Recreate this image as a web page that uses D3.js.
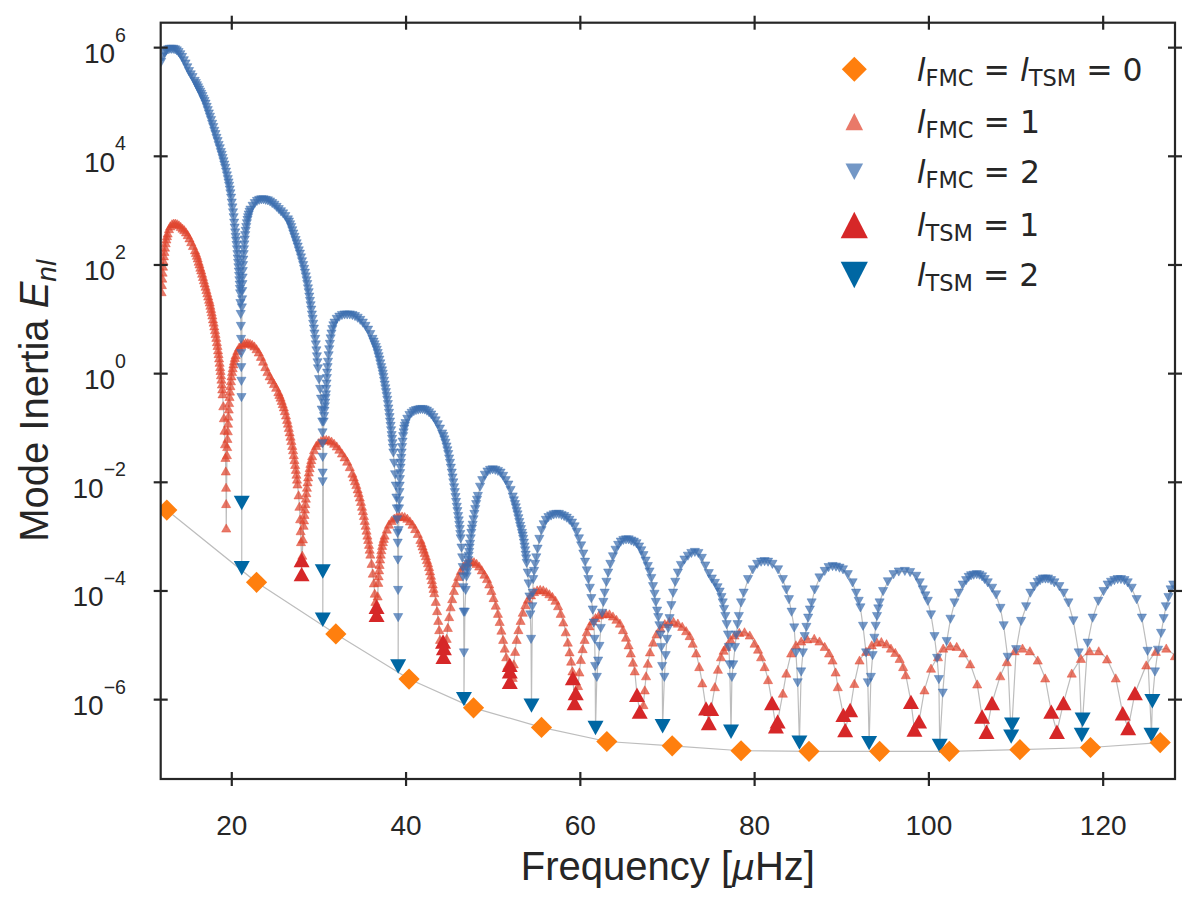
<!DOCTYPE html>
<html>
<head>
<meta charset="utf-8">
<script src="https://cdn.jsdelivr.net/npm/d3@7/dist/d3.min.js"></script>
<style>
  body { margin: 0; background: #fff; }
  svg { display: block; }
</style>
</head>
<body>
<div id="chart"></div>
<script>
// values; inertia kept as log10(E_nl)

// radial modes (l = 0, FMC and TSM coincide)
const l0Freq = [12.6, 22.9, 32.0, 40.4, 47.8, 55.6, 63.1, 70.6, 78.5, 86.3, 94.4, 102.4, 110.5, 118.6, 126.6];
const l0LogE = [-2.52, -3.85, -4.80, -5.63, -6.16, -6.52, -6.78, -6.86, -6.95, -6.96, -6.96, -6.96, -6.93, -6.89, -6.80];

// TSM modes [freq, log10 E]
const tsm1 = [[28.07,-3.44],[28.07,-3.70],[36.67,-4.30],[36.67,-4.45],[44.3,-4.94],[44.4,-5.06],[44.35,-5.22],
  [51.96,-5.37],[51.96,-5.49],[51.96,-5.68],[59.2,-5.61],[59.4,-6.07],[59.53,-5.89],[66.56,-5.92],[66.87,-6.23],
  [74.48,-6.17],[74.8,-6.44],[75.07,-6.18],[82.06,-6.07],[82.5,-6.50],[82.7,-6.41],[90.24,-6.29],[90.45,-6.57],
  [91.02,-6.20],[98.0,-6.05],[98.4,-6.56],[98.93,-6.41],[106.16,-6.32],[106.67,-6.60],[107.3,-6.07],
  [114.1,-6.23],[114.75,-6.60],[115.5,-6.07],[122.3,-6.26],[122.93,-6.53],[123.7,-5.89]];

const tsm2 = [[21.2,-2.39],[21.2,-3.59],[30.5,-3.65],[30.5,-4.54],[39.15,-5.40],[46.7,-6.0],[54.45,-6.12],
  [61.8,-6.53],[69.5,-6.50],[77.35,-6.60],[85.2,-6.80],[93.2,-6.81],[101.3,-6.86],[109.5,-6.69],[109.6,-6.47],
  [117.6,-6.66],[117.7,-6.38],[125.6,-6.66],[125.7,-6.04]];

// FMC l = 1, one array per arch between the dipole p modes
const fmc1Arches = [
  [[12.0,1.5],[12.04,1.63],[12.08,1.75],[12.12,1.86],[12.17,1.97],[12.22,2.07],[12.27,2.16],[12.33,2.24],[12.4,2.32],
   [12.47,2.4],[12.55,2.47],[12.62,2.53],[12.7,2.58],[12.85,2.66],[13.0,2.71],[13.2,2.75],[13.4,2.76],[13.6,2.76],
   [13.8,2.75],[14.0,2.73],[14.2,2.7],[14.4,2.67],[14.6,2.64],[14.8,2.6],[15.0,2.55],[15.2,2.49],[15.4,2.42],
   [15.6,2.35],[15.83,2.27],[15.94,2.22],[16.05,2.17],[16.15,2.12],[16.25,2.06],[16.35,2.01],[16.45,1.95],
   [16.55,1.9],[16.65,1.84],[16.75,1.78],[16.85,1.72],[16.95,1.66],[17.05,1.6],[17.15,1.54],[17.25,1.48],
   [17.35,1.42],[17.45,1.36],[17.53,1.31],[17.6,1.25],[17.68,1.19],[17.75,1.13],[17.83,1.07],[17.9,1.0],
   [17.98,0.94],[18.05,0.87],[18.13,0.8],[18.2,0.73],[18.28,0.66],[18.35,0.58],[18.42,0.51],[18.48,0.43],
   [18.54,0.36],[18.6,0.28],[18.66,0.2],[18.72,0.12],[18.77,0.05],[18.82,-0.03],[18.87,-0.11],[18.92,-0.2],
   [18.96,-0.29],[19.0,-0.38],[19.08,-0.6],[19.15,-0.82],[19.22,-1.05],[19.28,-1.3],[19.33,-1.55],[19.37,-1.8],
   [19.4,-2.1],[19.41,-2.4],[19.42,-2.85]],
  [[19.5,-1.5],[19.53,-1.35],[19.56,-1.2],[19.6,-1.06],[19.63,-0.92],[19.67,-0.79],[19.71,-0.66],[19.75,-0.54],
   [19.8,-0.43],[19.85,-0.33],[19.9,-0.23],[19.96,-0.14],[20.02,-0.05],[20.09,0.03],[20.16,0.1],[20.24,0.17],
   [20.32,0.23],[20.41,0.29],[20.5,0.34],[20.7,0.42],[20.9,0.48],[21.15,0.52],[21.4,0.55],[21.65,0.56],[21.9,0.56],
   [22.15,0.55],[22.4,0.53],[22.65,0.5],[22.9,0.45],[23.15,0.39],[23.4,0.31],[23.65,0.22],[23.9,0.12],[24.15,0.03],
   [24.4,-0.05],[24.65,-0.12],[24.9,-0.19],[25.15,-0.26],[25.4,-0.34],[25.52,-0.39],[25.65,-0.44],[25.78,-0.5],
   [25.9,-0.56],[26.03,-0.62],[26.15,-0.69],[26.28,-0.77],[26.4,-0.85],[26.5,-0.92],[26.6,-1.0],[26.7,-1.08],
   [26.8,-1.16],[26.9,-1.24],[27.0,-1.33],[27.09,-1.41],[27.17,-1.5],[27.25,-1.59],[27.33,-1.68],[27.41,-1.77],
   [27.48,-1.86],[27.54,-1.95],[27.6,-2.04],[27.72,-2.24],[27.82,-2.45],[27.9,-2.68],[27.96,-2.9],[28.0,-3.1]],
  [[28.15,-3.35],[28.22,-3.05],[28.3,-2.8],[28.35,-2.7],[28.4,-2.6],[28.45,-2.5],[28.5,-2.4],[28.56,-2.3],
   [28.62,-2.2],[28.68,-2.1],[28.75,-2.0],[28.82,-1.91],[28.9,-1.82],[28.99,-1.74],[29.08,-1.66],[29.18,-1.59],
   [29.28,-1.52],[29.5,-1.41],[29.75,-1.33],[30.0,-1.28],[30.3,-1.24],[30.6,-1.22],[30.9,-1.22],[31.2,-1.23],
   [31.5,-1.25],[31.8,-1.29],[32.1,-1.34],[32.4,-1.4],[32.7,-1.47],[33.0,-1.54],[33.3,-1.62],[33.6,-1.72],
   [33.9,-1.84],[34.05,-1.91],[34.2,-1.98],[34.35,-2.05],[34.5,-2.13],[34.62,-2.2],[34.75,-2.28],[34.88,-2.36],
   [35.0,-2.45],[35.11,-2.53],[35.22,-2.62],[35.32,-2.71],[35.42,-2.8],[35.52,-2.89],[35.62,-2.98],[35.71,-3.06],
   [35.8,-3.15],[35.88,-3.24],[35.96,-3.33],[36.1,-3.5],[36.24,-3.68],[36.36,-3.86],[36.46,-4.05],[36.54,-4.2]],
  [[36.8,-4.1],[36.87,-3.85],[36.91,-3.73],[36.96,-3.62],[37.02,-3.52],[37.08,-3.42],[37.15,-3.33],[37.22,-3.25],
   [37.31,-3.17],[37.4,-3.1],[37.5,-3.04],[37.6,-2.98],[37.85,-2.87],[38.1,-2.78],[38.4,-2.71],[38.7,-2.67],
   [39.0,-2.64],[39.3,-2.63],[39.6,-2.63],[39.9,-2.64],[40.2,-2.67],[40.5,-2.72],[40.8,-2.78],[41.1,-2.86],
   [41.4,-2.95],[41.7,-3.06],[41.83,-3.12],[41.95,-3.18],[42.08,-3.24],[42.2,-3.3],[42.33,-3.36],[42.45,-3.43],
   [42.58,-3.49],[42.7,-3.56],[42.81,-3.64],[42.92,-3.72],[43.02,-3.8],[43.12,-3.88],[43.21,-3.96],[43.3,-4.04],
   [43.47,-4.2],[43.62,-4.37],[43.75,-4.55],[43.86,-4.72],[43.95,-4.9]],
  [[44.6,-5.1],[44.72,-4.88],[44.85,-4.68],[45.0,-4.48],[45.17,-4.3],[45.35,-4.15],[45.55,-4.0],[45.8,-3.86],
   [46.05,-3.74],[46.35,-3.63],[46.65,-3.55],[46.95,-3.5],[47.25,-3.47],[47.55,-3.46],[47.85,-3.47],[48.15,-3.5],
   [48.45,-3.55],[48.75,-3.62],[49.05,-3.7],[49.35,-3.78],[49.6,-3.88],[49.85,-4.0],[50.1,-4.13],[50.35,-4.27],
   [50.6,-4.42],[50.8,-4.57],[51.0,-4.73],[51.2,-4.9],[51.38,-5.06],[51.55,-5.22],[51.7,-5.38]],
  [[52.3,-5.6],[52.42,-5.35],[52.57,-5.12],[52.75,-4.9],[52.95,-4.72],[53.2,-4.55],[53.45,-4.4],[53.75,-4.26],
   [54.05,-4.16],[54.4,-4.08],[54.75,-4.02],[55.1,-3.99],[55.45,-3.98],[55.8,-3.99],[56.15,-4.02],[56.5,-4.06],
   [56.85,-4.11],[57.2,-4.18],[57.5,-4.28],[57.8,-4.42],[58.1,-4.58],[58.38,-4.76],[58.62,-4.95],[58.82,-5.13],
   [59.0,-5.3],[59.15,-5.48]],
  [[59.8,-5.75],[59.95,-5.5],[60.12,-5.27],[60.32,-5.07],[60.55,-4.9],[60.8,-4.76],[61.1,-4.65],[61.45,-4.56],
   [61.8,-4.5],[62.2,-4.45],[62.6,-4.43],[63.0,-4.42],[63.4,-4.43],[63.8,-4.47],[64.2,-4.53],[64.6,-4.6],
   [64.95,-4.72],[65.3,-4.86],[65.6,-5.0],[65.85,-5.15],[66.1,-5.32],[66.3,-5.48]],
  [[67.3,-6.1],[67.45,-5.83],[67.6,-5.57],[67.8,-5.34],[68.05,-5.13],[68.4,-4.95],[68.8,-4.8],[69.25,-4.69],
   [69.75,-4.61],[70.25,-4.57],[70.75,-4.57],[71.25,-4.6],[71.75,-4.66],[72.2,-4.74],[72.6,-4.83],[72.95,-4.97],
   [73.35,-5.15],[73.7,-5.4],[74.05,-5.7]],
  [[75.5,-5.77],[75.85,-5.45],[76.2,-5.22],[76.5,-5.1],[76.8,-5.03],[77.3,-4.9],[77.75,-4.82],[78.3,-4.77],
   [78.9,-4.76],[79.5,-4.82],[80.05,-4.97],[80.45,-5.08],[80.8,-5.22],[81.2,-5.4],[81.6,-5.64]],
  [[83.3,-5.89],[83.7,-5.52],[84.25,-5.15],[84.8,-5.0],[85.4,-4.93],[86.1,-4.89],[86.9,-4.88],[87.5,-4.93],
   [88.1,-5.03],[88.6,-5.15],[89.0,-5.28],[89.35,-5.5],[89.6,-5.77]],
  [[91.5,-5.71],[92.1,-5.28],[92.85,-5.12],[93.5,-5.0],[94.1,-4.95],[94.6,-4.94],[95.2,-4.98],[95.7,-5.06],
   [96.2,-5.14],[96.7,-5.25],[97.1,-5.4],[97.4,-5.55]],
  [[99.55,-5.83],[100.3,-5.43],[101.1,-5.22],[101.7,-5.06],[102.5,-5.02],[103.25,-5.03],[104.0,-5.15],[104.8,-5.35],[105.6,-5.72]],
  [[108.25,-5.57],[109.0,-5.31],[109.9,-5.11],[110.8,-5.06],[111.65,-5.11],[112.55,-5.28],[113.4,-5.61]],
  [[116.45,-5.52],[117.5,-5.25],[118.5,-5.11],[119.55,-5.11],[120.5,-5.26],[121.5,-5.61]],
  [[125.0,-5.37],[126.1,-5.12],[127.3,-5.06],[128.3,-5.2]]
];

// FMC l = 2, one array per arch between the quadrupole p modes
const fmc2Arches = [
  [[11.95,5.72],[12.15,5.82],[12.35,5.89],[12.55,5.93],[12.75,5.95],[12.95,5.96],[13.15,5.96],[13.35,5.96],
   [13.55,5.95],[13.75,5.93],[13.95,5.9],[14.15,5.86],[14.35,5.81],[14.55,5.75],[14.75,5.69],[14.95,5.62],
   [15.15,5.55],[15.35,5.49],[15.55,5.44],[15.8,5.37],[15.93,5.33],[16.05,5.29],[16.18,5.25],[16.3,5.21],
   [16.43,5.17],[16.55,5.13],[16.68,5.09],[16.8,5.04],[16.93,5.0],[17.05,4.95],[17.18,4.89],[17.3,4.83],
   [17.43,4.77],[17.55,4.71],[17.68,4.65],[17.8,4.58],[17.93,4.52],[18.05,4.45],[18.18,4.39],[18.3,4.32],
   [18.43,4.26],[18.55,4.19],[18.68,4.13],[18.8,4.06],[18.9,4.01],[19.0,3.95],[19.1,3.89],[19.2,3.83],[19.3,3.77],
   [19.4,3.7],[19.5,3.63],[19.6,3.56],[19.68,3.5],[19.75,3.44],[19.83,3.37],[19.9,3.3],[19.98,3.22],[20.05,3.13],
   [20.13,3.04],[20.2,2.95],[20.27,2.86],[20.33,2.76],[20.39,2.67],[20.45,2.58],[20.5,2.5],[20.55,2.43],[20.6,2.35],
   [20.65,2.27],[20.7,2.18],[20.74,2.1],[20.78,2.02],[20.82,1.94],[20.86,1.86],[20.9,1.78],[20.93,1.7],[20.96,1.62],
   [20.99,1.54],[21.01,1.46],[21.05,1.28],[21.08,1.08],[21.1,0.86],[21.12,0.62],[21.14,0.36],[21.15,0.1],
   [21.16,-0.15],[21.17,-0.45]],
  [[21.22,1.2],[21.24,1.35],[21.26,1.5],[21.28,1.63],[21.3,1.75],[21.32,1.87],[21.35,1.98],[21.38,2.08],[21.42,2.18],
   [21.46,2.27],[21.5,2.36],[21.55,2.45],[21.6,2.53],[21.66,2.61],[21.72,2.68],[21.79,2.75],[21.86,2.81],[21.93,2.86],
   [22.0,2.91],[22.1,2.96],[22.2,3.0],[22.45,3.07],[22.7,3.12],[22.95,3.16],[23.2,3.18],[23.45,3.19],[23.7,3.19],
   [23.95,3.18],[24.2,3.17],[24.45,3.15],[24.7,3.12],[24.95,3.09],[25.2,3.05],[25.45,3.01],[25.7,2.97],[25.95,2.93],
   [26.2,2.88],[26.5,2.82],[26.62,2.78],[26.75,2.73],[26.88,2.68],[27.0,2.62],[27.12,2.56],[27.25,2.5],[27.38,2.44],
   [27.5,2.38],[27.62,2.32],[27.75,2.25],[27.88,2.19],[28.0,2.12],[28.12,2.05],[28.25,1.98],[28.35,1.91],
   [28.45,1.84],[28.55,1.77],[28.64,1.7],[28.72,1.63],[28.8,1.55],[28.88,1.48],[28.95,1.4],[29.03,1.32],[29.1,1.24],
   [29.18,1.16],[29.25,1.07],[29.33,0.99],[29.4,0.9],[29.48,0.81],[29.55,0.72],[29.63,0.62],[29.7,0.52],
   [29.77,0.41],[29.83,0.3],[29.89,0.19],[29.95,0.08],[30.07,-0.12],[30.2,-0.3],[30.3,-0.48],[30.38,-0.68],
   [30.44,-0.9],[30.47,-1.1],[30.48,-1.3],[30.49,-1.55],[30.49,-1.84],[30.49,-2.0]],
  [[30.6,-0.9],[30.65,-0.8],[30.7,-0.7],[30.74,-0.62],[30.78,-0.55],[30.82,-0.47],[30.86,-0.4],[30.9,-0.3],
   [30.93,-0.2],[30.97,-0.1],[31.0,0.0],[31.05,0.1],[31.1,0.2],[31.17,0.32],[31.24,0.43],[31.32,0.53],[31.4,0.63],
   [31.5,0.72],[31.6,0.8],[31.72,0.87],[31.85,0.92],[32.1,0.99],[32.4,1.03],[32.7,1.06],[33.0,1.07],[33.3,1.07],
   [33.6,1.07],[33.9,1.06],[34.2,1.04],[34.5,1.01],[34.8,0.97],[35.1,0.92],[35.4,0.86],[35.7,0.79],[35.95,0.71],
   [36.2,0.62],[36.33,0.57],[36.45,0.52],[36.58,0.47],[36.7,0.42],[36.8,0.36],[36.9,0.3],[37.0,0.24],[37.1,0.17],
   [37.2,0.1],[37.3,0.04],[37.38,-0.02],[37.45,-0.08],[37.53,-0.15],[37.6,-0.22],[37.68,-0.29],[37.75,-0.36],
   [37.83,-0.43],[37.9,-0.5],[37.97,-0.58],[38.03,-0.66],[38.1,-0.74],[38.16,-0.82],[38.22,-0.9],[38.28,-0.98],
   [38.34,-1.06],[38.4,-1.15],[38.45,-1.22],[38.5,-1.3],[38.55,-1.38],[38.6,-1.47],[38.7,-1.66],[38.8,-1.87],
   [38.88,-2.08],[38.95,-2.3],[39.0,-2.5],[39.04,-2.7],[39.08,-2.95],[39.1,-3.13],[39.12,-3.44],[39.14,-4.0],[39.15,-4.5]],
  [[39.2,-2.9],[39.25,-2.5],[39.28,-2.35],[39.3,-2.2],[39.33,-2.08],[39.35,-1.96],[39.38,-1.85],[39.42,-1.75],
   [39.46,-1.66],[39.5,-1.57],[39.55,-1.47],[39.6,-1.37],[39.66,-1.27],[39.72,-1.17],[39.78,-1.1],[39.85,-1.03],
   [39.92,-0.98],[40.0,-0.93],[40.2,-0.85],[40.45,-0.78],[40.7,-0.74],[40.95,-0.71],[41.2,-0.69],[41.45,-0.68],
   [41.7,-0.67],[41.95,-0.67],[42.2,-0.68],[42.45,-0.7],[42.7,-0.73],[42.95,-0.77],[43.2,-0.82],[43.45,-0.88],
   [43.7,-0.95],[43.95,-1.03],[44.2,-1.12],[44.33,-1.17],[44.45,-1.23],[44.58,-1.29],[44.7,-1.36],[44.8,-1.43],
   [44.9,-1.5],[45.0,-1.58],[45.1,-1.66],[45.2,-1.75],[45.3,-1.84],[45.39,-1.93],[45.48,-2.02],[45.57,-2.11],
   [45.65,-2.2],[45.73,-2.29],[45.8,-2.38],[45.88,-2.47],[45.95,-2.55],[46.03,-2.64],[46.1,-2.72],[46.16,-2.8],
   [46.22,-2.88],[46.28,-2.97],[46.33,-3.05],[46.42,-3.22],[46.5,-3.4],[46.56,-3.58],[46.6,-3.75],[46.64,-3.95],
   [46.67,-4.4],[46.7,-5.15]],
  [[46.8,-4.4],[46.9,-4.0],[47.0,-3.75],[47.05,-3.67],[47.1,-3.6],[47.15,-3.52],[47.2,-3.45],[47.25,-3.37],
   [47.3,-3.3],[47.35,-3.22],[47.4,-3.15],[47.48,-3.05],[47.55,-2.95],[47.62,-2.87],[47.7,-2.8],[47.8,-2.7],
   [47.9,-2.6],[48.0,-2.51],[48.1,-2.42],[48.2,-2.34],[48.3,-2.27],[48.55,-2.1],[48.8,-1.98],[49.1,-1.88],
   [49.4,-1.82],[49.7,-1.79],[50.0,-1.78],[50.3,-1.79],[50.6,-1.81],[50.9,-1.84],[51.2,-1.9],[51.5,-1.98],
   [51.8,-2.06],[52.05,-2.16],[52.3,-2.28],[52.43,-2.35],[52.55,-2.42],[52.65,-2.48],[52.75,-2.55],[52.85,-2.61],
   [52.95,-2.68],[53.05,-2.75],[53.15,-2.82],[53.25,-2.88],[53.35,-2.95],[53.43,-3.0],[53.5,-3.06],[53.58,-3.13],
   [53.65,-3.2],[53.72,-3.27],[53.78,-3.35],[53.84,-3.42],[53.9,-3.5],[54.02,-3.68],[54.12,-3.88],[54.22,-4.12],
   [54.32,-4.45],[54.4,-4.9]],
  [[54.55,-4.3],[54.6,-4.05],[54.65,-3.8],[54.75,-3.65],[54.87,-3.52],[55.0,-3.4],[55.15,-3.24],[55.35,-3.06],
   [55.6,-2.9],[55.85,-2.79],[56.1,-2.71],[56.4,-2.66],[56.7,-2.63],[57.0,-2.61],[57.3,-2.6],[57.6,-2.6],[57.9,-2.62],
   [58.2,-2.64],[58.5,-2.67],[58.8,-2.71],[59.1,-2.76],[59.4,-2.83],[59.65,-2.93],[59.9,-3.05],[60.15,-3.18],
   [60.4,-3.33],[60.6,-3.48],[60.8,-3.64],[60.98,-3.8],[61.15,-3.96],[61.32,-4.15],[61.48,-4.36],[61.6,-4.6],
   [61.7,-4.9],[61.76,-5.4]],
  [[61.95,-5.6],[62.1,-5.3],[62.25,-5.03],[62.4,-4.7],[62.55,-4.42],[62.7,-4.22],[62.85,-4.05],[63.05,-3.85],
   [63.25,-3.68],[63.5,-3.52],[63.8,-3.38],[64.1,-3.26],[64.4,-3.17],[64.7,-3.11],[65.0,-3.08],[65.3,-3.07],
   [65.6,-3.07],[65.9,-3.09],[66.2,-3.11],[66.5,-3.14],[66.8,-3.2],[67.05,-3.27],[67.3,-3.36],[67.55,-3.46],
   [67.8,-3.56],[68.0,-3.66],[68.2,-3.78],[68.4,-3.93],[68.57,-4.07],[68.72,-4.22],[68.87,-4.38],[69.0,-4.5],
   [69.13,-4.65],[69.25,-4.82],[69.35,-5.05],[69.45,-5.4]],
  [[69.7,-5.6],[69.85,-5.2],[70.0,-4.9],[70.15,-4.7],[70.3,-4.52],[70.5,-4.28],[70.7,-4.05],[70.95,-3.85],
   [71.25,-3.68],[71.6,-3.54],[72.0,-3.44],[72.4,-3.37],[72.8,-3.32],[73.2,-3.3],[73.6,-3.32],[74.0,-3.41],
   [74.4,-3.55],[74.8,-3.69],[75.15,-3.79],[75.5,-3.87],[75.8,-3.95],[76.05,-4.03],[76.25,-4.13],[76.4,-4.23],
   [76.55,-4.35],[76.7,-4.48],[76.85,-4.63],[77.0,-4.82],[77.1,-5.05],[77.2,-5.37]],
  [[77.45,-5.6],[77.6,-5.37],[77.8,-5.05],[77.95,-4.82],[78.1,-4.63],[78.25,-4.48],[78.5,-4.23],[78.8,-4.05],
   [79.3,-3.8],[79.85,-3.62],[80.35,-3.52],[80.8,-3.48],[81.2,-3.47],[81.6,-3.48],[82.1,-3.52],[82.75,-3.62],
   [83.3,-3.8],[83.7,-3.99],[84.0,-4.17],[84.3,-4.4],[84.6,-4.69],[84.8,-5.15],[85.0,-5.7]],
  [[85.4,-5.5],[85.6,-5.15],[85.8,-4.85],[86.0,-4.68],[86.2,-4.51],[86.4,-4.36],[86.6,-4.23],[86.95,-3.99],
   [87.5,-3.77],[88.1,-3.65],[88.55,-3.58],[89.0,-3.56],[89.4,-3.57],[89.8,-3.59],[90.2,-3.62],[90.75,-3.71],
   [91.3,-3.86],[91.7,-4.05],[92.0,-4.2],[92.2,-4.32],[92.5,-4.66],[92.85,-5.15],[93.05,-5.7]],
  [[93.4,-5.6],[93.6,-5.2],[93.8,-4.88],[93.95,-4.66],[94.1,-4.48],[94.25,-4.34],[94.4,-4.23],[94.8,-4.02],
   [95.35,-3.84],[96.0,-3.71],[96.6,-3.66],[97.3,-3.65],[97.9,-3.67],[98.6,-3.74],[99.0,-3.86],[99.35,-3.99],
   [99.65,-4.1],[99.93,-4.2],[100.3,-4.45],[100.7,-4.85],[101.0,-5.25],[101.2,-5.64]],
  [[101.65,-5.89],[102.1,-4.94],[102.53,-4.53],[102.99,-4.23],[103.48,-4.05],[103.94,-3.9],[104.33,-3.82],
   [104.63,-3.76],[104.9,-3.73],[105.2,-3.72],[105.55,-3.71],[105.86,-3.72],[106.16,-3.75],[106.46,-3.8],
   [106.81,-3.86],[107.31,-3.96],[107.77,-4.08],[108.27,-4.33],[108.64,-4.65],[109.1,-5.23]],
  [[110.07,-5.09],[110.64,-4.57],[111.21,-4.3],[111.7,-4.05],[112.16,-3.93],[112.54,-3.85],[112.82,-3.82],
   [113.12,-3.79],[113.43,-3.79],[113.73,-3.79],[114.08,-3.82],[114.46,-3.86],[115.03,-3.93],[115.53,-4.05],
   [116.07,-4.23],[116.64,-4.56],[117.25,-5.15]],
  [[118.28,-4.97],[118.85,-4.51],[119.5,-4.2],[120.1,-4.02],[120.57,-3.9],[120.96,-3.85],[121.34,-3.82],
   [121.72,-3.8],[122.1,-3.8],[122.5,-3.82],[122.87,-3.86],[123.33,-3.96],[123.9,-4.17],[124.5,-4.51],[125.15,-5.12]],
  [[126.0,-5.5],[126.35,-5.1],[126.7,-4.79],[127.0,-4.52],[127.25,-4.3],[127.55,-4.13],[127.8,-3.99],[128.1,-3.9]]
];

const xTicks = [20, 40, 60, 80, 100, 120];
const yTickExp = [-6, -4, -2, 0, 2, 4, 6];
const xLimits = [11.9, 128.3];
const yLimitExp = [-7.47, 6.45];

const legendRows = [
  {key: "l0",   parts: [["FMC", "0"], ["TSM", "0"]]},
  {key: "fmc1", parts: [["FMC", "1"]]},
  {key: "fmc2", parts: [["FMC", "2"]]},
  {key: "tsm1", parts: [["TSM", "1"]]},
  {key: "tsm2", parts: [["TSM", "2"]]}
];

// ---------------------------------------------------------------
const W = 1200, H = 906;
const box = {left: 160.7, right: 1175, top: 22.7, bottom: 779};
const ink = "#262626";

const x = d3.scaleLinear().domain(xLimits).range([box.left, box.right]);
const y = d3.scaleLog()
  .domain(yLimitExp.map(e => Math.pow(10, e)))
  .range([box.bottom, box.top]);

const toPts = arr => arr.map(d => ({f: d[0], e: Math.pow(10, d[1])}));

const fmc1 = toPts(fmc1Arches.flat());
const fmc2 = toPts(fmc2Arches.flat());
const t1 = toPts(tsm1);
const t2 = toPts(tsm2);
const l0 = l0Freq.map((f, i) => ({f: f, e: Math.pow(10, l0LogE[i])}));

const tri = (up, hw, hh) => up
  ? `M0,${-hh}L${hw},${hh}L${-hw},${hh}Z`
  : `M0,${hh}L${hw},${-hh}L${-hw},${-hh}Z`;
const diamond = h => `M0,${-h}L${h},0L0,${h}L${-h},0Z`;

const styles = {
  l0:   {fill: "#ff7f0e", op: 1,    sw: 0, d: diamond(10.6), dl: diamond(12.5)},
  fmc1: {fill: "#e0452f", op: 0.72, sw: 1, d: tri(true, 4.6, 4.1),  dl: tri(true, 8.8, 8.6)},
  fmc2: {fill: "#3d6fb0", op: 0.72, sw: 1, d: tri(false, 4.6, 4.1), dl: tri(false, 8.8, 8.2)},
  tsm1: {fill: "#d62728", op: 1,    sw: 0, d: tri(true, 8, 7.2),    dl: tri(true, 13.6, 13.2)},
  tsm2: {fill: "#0067a3", op: 1,    sw: 0, d: tri(false, 8, 7.2),   dl: tri(false, 13.6, 13.2)}
};

const svg = d3.select("#chart").append("svg")
  .attr("width", W).attr("height", H)
  .style("font-family", "'Liberation Sans', Arial, sans-serif");

svg.append("defs").append("clipPath").attr("id", "plotclip")
  .append("rect")
  .attr("x", box.left).attr("y", box.top)
  .attr("width", box.right - box.left).attr("height", box.bottom - box.top);

const plot = svg.append("g").attr("clip-path", "url(#plotclip)");

const line = d3.line().x(d => x(d.f)).y(d => y(d.e));
const byFreq = arr => arr.slice().sort((a, b) => a.f - b.f);

// thin grey connecting lines
plot.append("path").datum(l0).attr("d", line)
  .attr("fill", "none").attr("stroke", "#bdbdbd").attr("stroke-width", 1.2);
plot.append("path").datum(byFreq(fmc1.concat(t1))).attr("d", line)
  .attr("fill", "none").attr("stroke", "#bdbdbd").attr("stroke-width", 1.2);
plot.append("path").datum(byFreq(fmc2.concat(t2))).attr("d", line)
  .attr("fill", "none").attr("stroke", "#bdbdbd").attr("stroke-width", 1.2);

function markers(data, key) {
  const s = styles[key];
  plot.append("g").selectAll("path")
    .data(data)
    .join("path")
      .attr("d", s.d)
      .attr("transform", d => `translate(${x(d.f)},${y(d.e)})`)
      .attr("fill", s.fill)
      .attr("fill-opacity", s.op)
      .attr("stroke", s.sw ? s.fill : "none")
      .attr("stroke-opacity", s.op * 0.6)
      .attr("stroke-width", s.sw)
      .attr("stroke-linejoin", "round");
}

markers(fmc1, "fmc1");
markers(fmc2, "fmc2");
markers(t1, "tsm1");
markers(t2, "tsm2");
markers(l0, "l0");

// spines
svg.append("rect")
  .attr("x", box.left).attr("y", box.top)
  .attr("width", box.right - box.left).attr("height", box.bottom - box.top)
  .attr("fill", "none").attr("stroke", ink).attr("stroke-width", 2.2);

// ticks on all four sides, drawn in-out
const tk = 7;
const yTickVals = yTickExp.map(e => Math.pow(10, e));

const axB = svg.append("g").attr("transform", `translate(0,${box.bottom})`)
  .call(d3.axisBottom(x).tickValues(xTicks).tickSize(tk).tickSizeOuter(0).tickPadding(29));
const axT = svg.append("g").attr("transform", `translate(0,${box.top})`)
  .call(d3.axisTop(x).tickValues(xTicks).tickSize(tk).tickSizeOuter(0).tickFormat(""));
const axL = svg.append("g").attr("transform", `translate(${box.left},0)`)
  .call(d3.axisLeft(y).tickValues(yTickVals).tickSize(tk).tickSizeOuter(0).tickFormat(""));
const axR = svg.append("g").attr("transform", `translate(${box.right},0)`)
  .call(d3.axisRight(y).tickValues(yTickVals).tickSize(tk).tickSizeOuter(0).tickFormat(""));

[axB, axT, axL, axR].forEach(g => {
  g.select(".domain").remove();
  g.selectAll(".tick line").attr("stroke", ink).attr("stroke-width", 2.2);
});
axB.selectAll(".tick line").attr("y1", -tk).attr("y2", tk);
axT.selectAll(".tick line").attr("y1", -tk).attr("y2", tk);
axL.selectAll(".tick line").attr("x1", -tk).attr("x2", tk);
axR.selectAll(".tick line").attr("x1", -tk).attr("x2", tk);

axB.selectAll(".tick text")
  .attr("fill", ink)
  .style("font-size", "28px")
  .style("font-family", "'Liberation Sans', Arial, sans-serif");

// log tick labels 10^n
const yLab = svg.append("g");
yTickExp.forEach(e => {
  const t = yLab.append("text")
    .attr("x", 126).attr("y", y(Math.pow(10, e)) + 16)
    .attr("text-anchor", "end")
    .attr("fill", ink)
    .style("font-size", "28px");
  t.append("tspan").text("10");
  t.append("tspan").attr("dy", -21.6).style("font-size", "19.6px")
    .text(e < 0 ? "\u2212" + Math.abs(e) : String(e));
});

// axis titles
const xt = svg.append("text")
  .attr("x", (box.left + box.right) / 2).attr("y", 880)
  .attr("text-anchor", "middle").attr("fill", ink)
  .style("font-size", "40px");
xt.append("tspan").text("Frequency [");
xt.append("tspan").style("font-style", "italic").style("font-family", "'DejaVu Sans', sans-serif")
  .style("font-size", "36px").text("\u03bc");
xt.append("tspan").text("Hz]");

const yt = svg.append("text")
  .attr("transform", `translate(48,${(box.top + box.bottom) / 2}) rotate(-90)`)
  .attr("text-anchor", "middle").attr("fill", ink)
  .style("font-size", "40px");
yt.append("tspan").text("Mode Inertia ");
yt.append("tspan").style("font-style", "italic").text("E");
yt.append("tspan").style("font-style", "italic").style("font-size", "28px").attr("dy", 8).text("nl");

// legend
const legY = [69.3, 121.7, 171.7, 225, 275];
const leg = svg.append("g");
legendRows.forEach((row, i) => {
  const s = styles[row.key];
  leg.append("path")
    .attr("d", s.dl)
    .attr("transform", `translate(854.3,${legY[i]})`)
    .attr("fill", s.fill).attr("fill-opacity", s.op);
  const t = leg.append("text")
    .attr("x", 916.7).attr("y", legY[i] + 11.4)
    .attr("fill", ink)
    .style("font-family", "'DejaVu Sans', sans-serif")
    .style("font-size", "31.5px");
  row.parts.forEach((p, j) => {
    t.append("tspan").style("font-style", "italic").text("l");
    t.append("tspan").attr("dy", 5).style("font-size", "22.5px").text(p[0]);
    const last = j === row.parts.length - 1;
    t.append("tspan").attr("dy", -5).text(last ? " = " + p[1] : " = ");
  });
});
</script>
</body>
</html>
